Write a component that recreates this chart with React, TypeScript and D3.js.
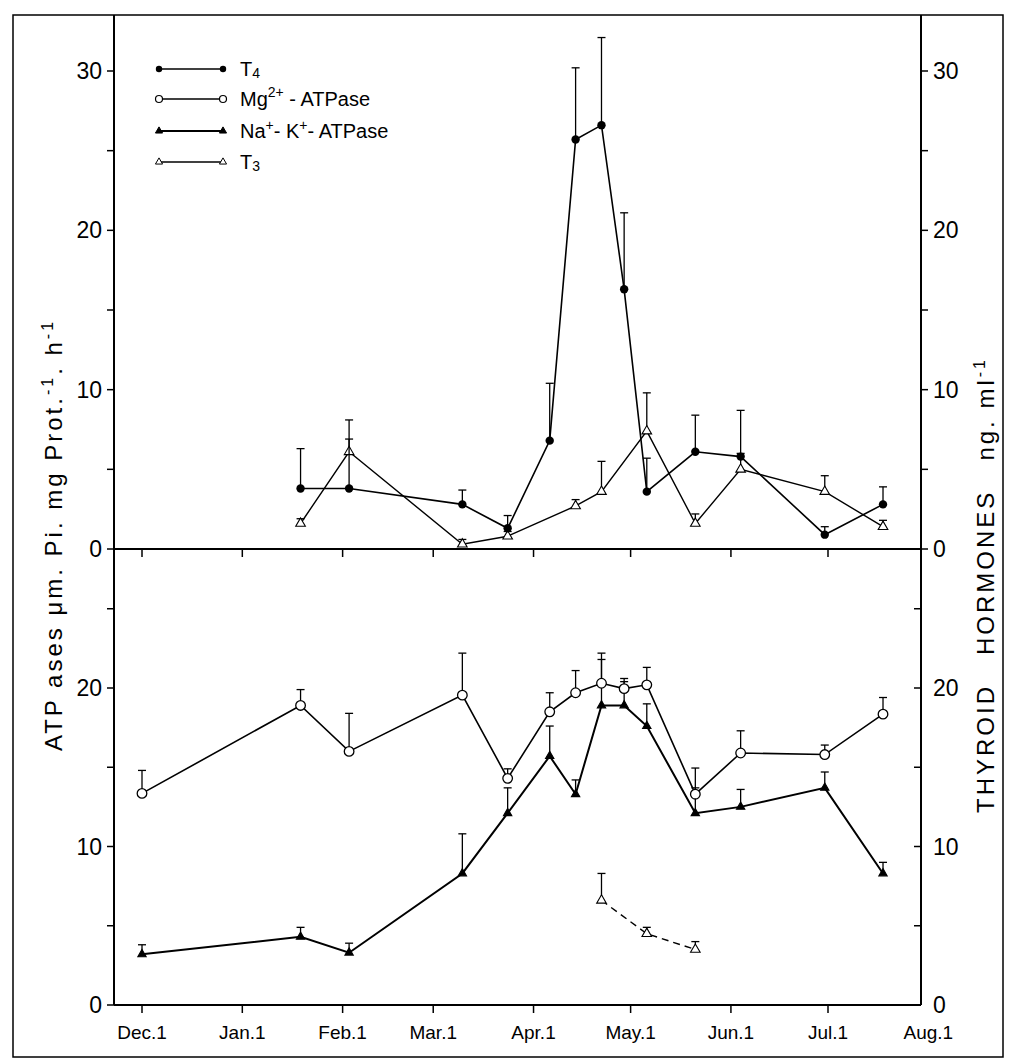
import * as d3 from 'd3';

const parse = d3.timeParse('%Y-%m-%d');

// sampling dates (Dec 1980 – Jul 1981)
const allDates = ['1980-12-01', '1981-01-19', '1981-02-03', '1981-03-10', '1981-03-24', '1981-04-06', '1981-04-14',
  '1981-04-22', '1981-04-29', '1981-05-06', '1981-05-21', '1981-06-04', '1981-06-30', '1981-07-18'];
const t4Dates = ['1981-01-19', '1981-02-03', '1981-03-10', '1981-03-24', '1981-04-06', '1981-04-14', '1981-04-22',
  '1981-04-29', '1981-05-06', '1981-05-21', '1981-06-04', '1981-06-30', '1981-07-18'];
const t3Dates = ['1981-01-19', '1981-02-03', '1981-03-10', '1981-03-24', '1981-04-14', '1981-04-22',
  '1981-05-06', '1981-05-21', '1981-06-04', '1981-06-30', '1981-07-18'];
const t3LowDates = ['1981-04-22', '1981-05-06', '1981-05-21'];

const t4Values = [3.8, 3.8, 2.8, 1.3, 6.8, 25.7, 26.6, 16.3, 3.6, 6.1, 5.8, 0.9, 2.8];
const t4Err = [6.3, 8.1, 3.7, 2.1, 10.4, 30.2, 32.1, 21.1, 5.7, 8.4, 8.7, 1.4, 3.9];
const t3Values = [1.6, 6.1, 0.3, 0.8, 2.7, 3.6, 7.4, 1.6, 5.0, 3.6, 1.4];
const t3Err = [1.9, 6.9, 0.6, 1.1, 3.1, 5.5, 9.8, 2.2, 6.0, 4.6, 1.8];
const mgValues = [13.35, 18.9, 16.0, 19.55, 14.3, 18.5, 19.7, 20.3, 19.96, 20.2, 13.3, 15.9, 15.8, 18.35];
const mgErr = [14.8, 19.9, 18.4, 22.2, 14.9, 19.7, 21.1, 22.2, 20.6, 21.3, 14.95, 17.3, 16.4, 19.4];
const nakValues = [3.2, 4.3, 3.3, 8.3, 12.1, 15.7, 13.3, 18.9, 18.9, 17.6, 12.1, 12.5, 13.7, 8.3];
const nakErr = [3.8, 4.9, 3.9, 10.8, 13.7, 17.6, 14.2, 21.8, 20.4, 19.0, 13.7, 13.6, 14.7, 9.0];
const t3LowValues = [6.6, 4.5, 3.5];
const t3LowErr = [8.3, 4.9, 4.0];

const monthTicks = ['1980-12-01', '1981-01-01', '1981-02-01', '1981-03-01', '1981-04-01', '1981-05-01',
  '1981-06-01', '1981-07-01', '1981-08-01'];
const monthLabels = ['Dec.1', 'Jan.1', 'Feb.1', 'Mar.1', 'Apr.1', 'May.1', 'Jun.1', 'Jul.1', 'Aug.1'];
const upTicks = [0, 5, 10, 15, 20, 25, 30];
const loTicks = [0, 5, 10, 15, 20, 25];
const labelTicks = [0, 10, 20, 30];

const W = 1011, H = 1061;
const left = 114, right = 921, top = 15, mid = 549, bottom = 1005;
const font = 'Liberation Sans, Arial, sans-serif';

const x = d3.scaleTime().domain([parse('1980-12-01')!, parse('1981-07-01')!]).range([142, 828]);
const yUp = d3.scaleLinear().domain([0, 30]).range([mid, 71]);
const yLo = d3.scaleLinear().domain([0, 20]).range([bottom, 688]);

type Marker = 'dot' | 'circle' | 'tri' | 'otri';

function Series({ dates, values, errs, y, marker, dash, width = 1.6 }:
  { dates: string[]; values: number[]; errs: number[]; y: d3.ScaleLinear<number, number>; marker: Marker; dash?: string; width?: number }) {
  const pts = dates.map((d, i) => [x(parse(d)!), y(values[i]), y(errs[i])] as [number, number, number]);
  const line = d3.line<[number, number, number]>().x(p => p[0]).y(p => p[1]);
  const tri = d3.symbol().type(d3.symbolTriangle).size(marker === 'tri' ? 30 : 40)()!;
  return (
    <g>
      {pts.map((p, i) => (
        <g key={'e' + i} stroke="#000" strokeWidth={1.3}>
          <line x1={p[0]} x2={p[0]} y1={p[1]} y2={p[2]} />
          <line x1={p[0] - 4} x2={p[0] + 4} y1={p[2]} y2={p[2]} />
        </g>
      ))}
      <path d={line(pts)!} fill="none" stroke="#000" strokeWidth={width} strokeDasharray={dash} />
      {pts.map((p, i) => {
        if (marker === 'dot') return <circle key={i} cx={p[0]} cy={p[1]} r={4.2} fill="#000" />;
        if (marker === 'circle') return <circle key={i} cx={p[0]} cy={p[1]} r={4.8} fill="#fff" stroke="#000" strokeWidth={1.3} />;
        return <path key={i} d={tri} transform={`translate(${p[0]},${p[1]})`}
          fill={marker === 'tri' ? '#000' : '#fff'} stroke="#000" strokeWidth={1.1} />;
      })}
    </g>
  );
}

function LegendRow({ y, marker, children }: { y: number; marker: Marker; children: any }) {
  const tri = d3.symbol().type(d3.symbolTriangle).size(22)()!;
  const m = (cx: number) => {
    if (marker === 'dot') return <circle cx={cx} cy={y} r={3.2} fill="#000" />;
    if (marker === 'circle') return <circle cx={cx} cy={y} r={3.5} fill="#fff" stroke="#000" strokeWidth={1.2} />;
    return <path d={tri} transform={`translate(${cx},${y})`} fill={marker === 'tri' ? '#000' : '#fff'} stroke="#000" />;
  };
  return (
    <g>
      <line x1={158} x2={224} y1={y} y2={y} stroke="#000" strokeWidth={marker === 'tri' ? 2 : 1.3} />
      {m(159)}{m(223)}
      <text x={240} y={y + 7} fontSize={20} fontFamily={font}>{children}</text>
    </g>
  );
}

export default function App() {
  return (
    <div style={{ position: 'absolute', left: 0, top: 0 }}>
      <svg width={W} height={H} viewBox={`0 0 ${W} ${H}`} style={{ display: 'block', background: '#fff' }}>
        <rect x={13} y={top} width={990} height={1042} fill="none" stroke="#000" strokeWidth={1.5} />
        {/* axes */}
        <g stroke="#000" strokeWidth={2}>
          <line x1={left} x2={left} y1={top} y2={bottom} />
          <line x1={right} x2={right} y1={top} y2={bottom} />
          <line x1={left} x2={right} y1={mid} y2={mid} />
          <line x1={left} x2={right} y1={bottom} y2={bottom} />
        </g>
        <g stroke="#000" strokeWidth={1.5}>
          {upTicks.map(t => (
            <g key={'u' + t}>
              <line x1={left - 7} x2={left} y1={yUp(t)} y2={yUp(t)} />
              <line x1={right} x2={right + 7} y1={yUp(t)} y2={yUp(t)} />
            </g>
          ))}
          {loTicks.map(t => (
            <g key={'l' + t}>
              <line x1={left - 7} x2={left} y1={yLo(t)} y2={yLo(t)} />
              <line x1={right - 7} x2={right} y1={yLo(t)} y2={yLo(t)} />
            </g>
          ))}
          {monthTicks.slice(0, 8).map(d => (
            <g key={d}>
              <line x1={x(parse(d)!)} x2={x(parse(d)!)} y1={mid} y2={mid + 8} />
              <line x1={x(parse(d)!)} x2={x(parse(d)!)} y1={bottom} y2={bottom + 8} />
            </g>
          ))}
        </g>
        <g fontFamily={font} fontSize={23}>
          {labelTicks.map(t => (
            <g key={'lab' + t}>
              <text x={left - 12} y={yUp(t) + 8} textAnchor="end">{t}</text>
              <text x={right + 12} y={yUp(t) + 8}>{t}</text>
            </g>
          ))}
          {labelTicks.slice(0, 3).map(t => (
            <g key={'lab2' + t}>
              <text x={left - 12} y={yLo(t) + 8} textAnchor="end">{t}</text>
              <text x={right + 12} y={yLo(t) + 8}>{t}</text>
            </g>
          ))}
        </g>
        <g fontFamily={font} fontSize={19}>
          {monthTicks.map((d, i) => (
            <text key={d} x={x(parse(d)!)} y={1039} textAnchor="middle">{monthLabels[i]}</text>
          ))}
        </g>
        {/* axis titles */}
        <text transform="translate(62,535) rotate(-90)" textAnchor="middle" fontFamily={font} fontSize={24} letterSpacing={3}>
          ATP ases μm. Pi. mg Prot.<tspan dy={-9} fontSize={16}>-1</tspan><tspan dy={9}>. h</tspan><tspan dy={-9} fontSize={16}>-1</tspan>
        </text>
        <text transform="translate(994,585) rotate(-90)" textAnchor="middle" fontFamily={font} fontSize={24} letterSpacing={3}
          style={{ whiteSpace: 'pre' }}>
          {'THYROID   HORMONES   ng. ml'}<tspan dy={-9} fontSize={16}>-1</tspan>
        </text>
        {/* series */}
        <Series dates={t3Dates} values={t3Values} errs={t3Err} y={yUp} marker="otri" width={1.4} />
        <Series dates={t4Dates} values={t4Values} errs={t4Err} y={yUp} marker="dot" />
        <Series dates={allDates} values={nakValues} errs={nakErr} y={yLo} marker="tri" width={2} />
        <Series dates={allDates} values={mgValues} errs={mgErr} y={yLo} marker="circle" />
        <Series dates={t3LowDates} values={t3LowValues} errs={t3LowErr} y={yLo} marker="otri" dash="7,5" width={1.4} />
        {/* legend */}
        <LegendRow y={69} marker="dot">T<tspan fontSize={14} dy={2}>4</tspan></LegendRow>
        <LegendRow y={99} marker="circle">Mg<tspan fontSize={14} dy={-9}>2+</tspan><tspan dy={9}> - ATPase</tspan></LegendRow>
        <LegendRow y={131} marker="tri">Na<tspan fontSize={14} dy={-8}>+</tspan><tspan dy={8}>- K</tspan><tspan fontSize={14} dy={-8}>+</tspan><tspan dy={8}>- ATPase</tspan></LegendRow>
        <LegendRow y={162} marker="otri">T<tspan fontSize={14} dy={2}>3</tspan></LegendRow>
      </svg>
    </div>
  );
}
